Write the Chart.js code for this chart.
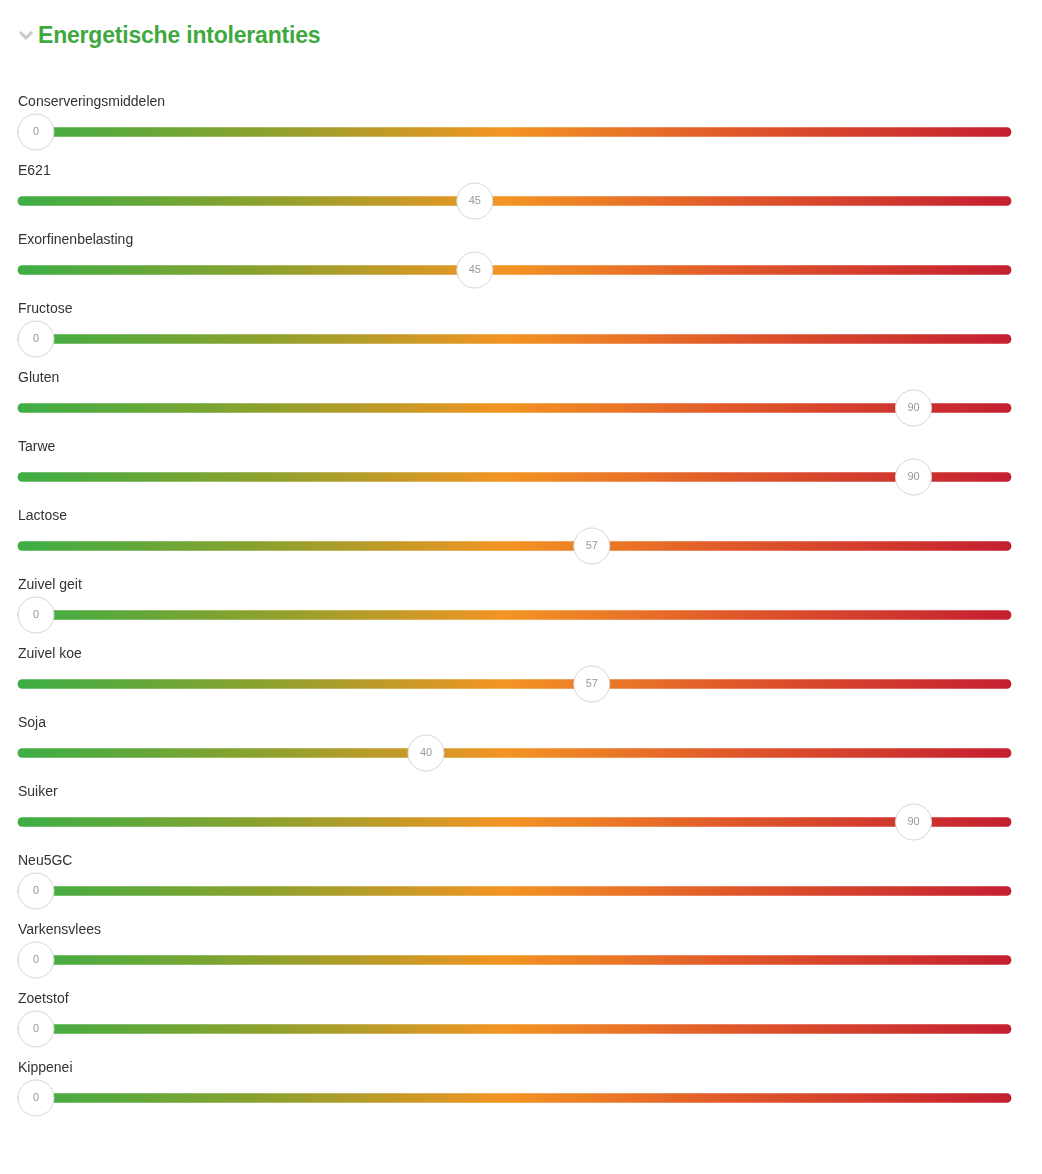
<!DOCTYPE html>
<html>
<head>
<meta charset="utf-8">
<script src="https://cdn.jsdelivr.net/npm/chart.js@4"></script>
<style>
  body { margin: 0; background: #fff; font-family: "Liberation Sans", Arial, sans-serif; }
  #wrap { position: relative; width: 1042px; height: 1174px; }
  h2 { position: absolute; left: 38px; top: 22px; margin: 0; font-size: 23px; color: #3fa83f; font-weight: bold; font-family: "Liberation Sans", Arial, sans-serif; letter-spacing: -0.2px; }
  .chev { position: absolute; left: 18px; top: 29px; }
  canvas { position: absolute; left: 0; top: 0; }
</style>
</head>
<body>
<div id="wrap">
  <svg class="chev" width="16" height="12"><polyline points="2,3 8,9 14,3" fill="none" stroke="#c8c8c8" stroke-width="3"/></svg>
  <h2>Energetische intoleranties</h2>
  <canvas id="chart" width="1042" height="1174"></canvas>
</div>
<script>
// categories and values
const categories = ['Conserveringsmiddelen', 'E621', 'Exorfinenbelasting', 'Fructose', 'Gluten', 'Tarwe',
    'Lactose', 'Zuivel geit', 'Zuivel koe', 'Soja', 'Suiker', 'Neu5GC', 'Varkensvlees', 'Zoetstof', 'Kippenei'];
const values = [0, 45, 45, 0, 90, 90, 57, 0, 57, 40, 90, 0, 0, 0, 0];
const trackStart = -1.85;
const trackEnd = 100;

// gradient for the track
function trackGradient(context) {
    const chart = context.chart;
    const area = chart.chartArea;
    if (!area) return '#f39422';
    const x0 = chart.scales.x.getPixelForValue(trackStart);
    const x1 = chart.scales.x.getPixelForValue(trackEnd);
    const g = chart.ctx.createLinearGradient(x0, 0, x1, 0);
    g.addColorStop(0, '#3cae45');
    g.addColorStop(0.25, '#8da12d');
    g.addColorStop(0.49, '#f39423');
    g.addColorStop(0.72, '#e0582a');
    g.addColorStop(1, '#c41f30');
    return g;
}

const labelPlugin = {
    id: 'sliderLabels',
    afterDatasetsDraw(chart) {
        const ctx = chart.ctx;
        const xs = chart.scales.x, ys = chart.scales.y;
        ctx.save();
        categories.forEach((name, i) => {
            const y = ys.getPixelForValue(i);
            ctx.font = '14px "Liberation Sans", Arial, sans-serif';
            ctx.fillStyle = '#333';
            ctx.textAlign = 'left';
            ctx.textBaseline = 'middle';
            ctx.fillText(name, 18, y - 30);
            ctx.font = '11px "Liberation Sans", Arial, sans-serif';
            ctx.fillStyle = '#999';
            ctx.textAlign = 'center';
            ctx.fillText(String(values[i]), xs.getPixelForValue(values[i]), y);
        });
        ctx.restore();
    }
};

new Chart(document.getElementById('chart'), {
    type: 'bar',
    data: {
        labels: categories,
        datasets: [{
            type: 'scatter',
            data: values.map((v, i) => ({ x: v, y: categories[i] })),
            pointRadius: 18,
            pointBackgroundColor: '#fff',
            pointBorderColor: '#d6d6d6',
            pointBorderWidth: 1,
            order: 1,
            clip: false
        }, {
            data: categories.map(() => [trackStart, trackEnd]),
            backgroundColor: trackGradient,
            barThickness: 9,
            borderRadius: 5,
            borderSkipped: false,
            order: 2,
            clip: false
        }]
    },
    options: {
        indexAxis: 'y',
        responsive: false,
        animation: false,
        layout: { padding: { left: 36, right: 31, top: 97.5, bottom: 41.5 } },
        scales: {
            x: { type: 'linear', min: 0, max: 100, display: false },
            y: { type: 'category', offset: true, display: false }
        },
        plugins: { legend: { display: false }, tooltip: { enabled: false } }
    },
    plugins: [labelPlugin]
});
</script>
</body>
</html>
